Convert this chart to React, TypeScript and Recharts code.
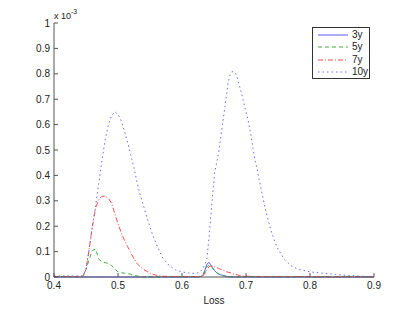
import React from 'react';
import { LineChart, Line, XAxis, YAxis, Legend } from 'recharts';

const lossX = [0.40, 0.42, 0.44, 0.445, 0.45, 0.455, 0.46, 0.465, 0.47, 0.475, 0.48, 0.485, 0.49, 0.495, 0.50, 0.505, 0.51, 0.515, 0.52, 0.525, 0.53, 0.535, 0.54, 0.545, 0.55, 0.555, 0.56, 0.565, 0.57, 0.58, 0.59, 0.60, 0.61, 0.62, 0.625, 0.63, 0.633, 0.636, 0.639, 0.642, 0.645, 0.648, 0.651, 0.654, 0.657, 0.66, 0.663, 0.666, 0.669, 0.672, 0.675, 0.678, 0.681, 0.684, 0.687, 0.69, 0.693, 0.696, 0.699, 0.702, 0.705, 0.708, 0.711, 0.714, 0.717, 0.72, 0.725, 0.73, 0.735, 0.74, 0.745, 0.75, 0.76, 0.77, 0.78, 0.79, 0.80, 0.82, 0.84, 0.86, 0.88, 0.90];

const y3 = [0, 0, 0, 0, 0, 0, 0, 0, 0, 0, 0, 0, 0, 0, 0, 0, 0, 0, 0, 0, 0, 0, 0, 0, 0, 0, 0, 0, 0, 0, 0, 0, 0, 0, 0, 0.002, 0.01, 0.028, 0.05, 0.058, 0.048, 0.035, 0.025, 0.017, 0.012, 0.009, 0.007, 0.005, 0.003, 0.001, 0, 0, 0, 0, 0, 0, 0, 0, 0, 0, 0, 0, 0, 0, 0, 0, 0, 0, 0, 0, 0, 0, 0, 0, 0, 0, 0, 0, 0, 0, 0, 0];

const y5 = [0.001, 0.001, 0.001, 0.001, 0.03, 0.07, 0.105, 0.11, 0.07, 0.06, 0.057, 0.052, 0.045, 0.032, 0.02, 0.017, 0.015, 0.013, 0.011, 0.007, 0.004, 0.002, 0.001, 0.001, 0.001, 0.001, 0.001, 0.001, 0.001, 0.001, 0.001, 0.001, 0.001, 0.001, 0.001, 0.002, 0.005, 0.02, 0.04, 0.047, 0.043, 0.035, 0.026, 0.018, 0.013, 0.009, 0.006, 0.004, 0.002, 0.001, 0.001, 0.001, 0.001, 0.001, 0.001, 0.001, 0.001, 0.001, 0.001, 0.001, 0.001, 0.001, 0.001, 0.001, 0.001, 0.001, 0.001, 0.001, 0.001, 0.001, 0.001, 0.001, 0.001, 0.001, 0.001, 0.001, 0.001, 0.001, 0.001, 0.001, 0.001, 0.001];

const y7 = [0.002, 0.002, 0.002, 0.002, 0.03, 0.11, 0.2, 0.27, 0.305, 0.318, 0.318, 0.31, 0.29, 0.25, 0.21, 0.175, 0.145, 0.12, 0.095, 0.072, 0.052, 0.04, 0.03, 0.022, 0.015, 0.01, 0.007, 0.005, 0.003, 0.002, 0.002, 0.002, 0.002, 0.002, 0.002, 0.003, 0.005, 0.015, 0.03, 0.04, 0.043, 0.043, 0.04, 0.037, 0.034, 0.031, 0.028, 0.025, 0.021, 0.019, 0.017, 0.014, 0.012, 0.01, 0.008, 0.006, 0.005, 0.004, 0.004, 0.003, 0.003, 0.003, 0.002, 0.002, 0.002, 0.002, 0.002, 0.002, 0.002, 0.002, 0.002, 0.002, 0.002, 0.002, 0.002, 0.002, 0.002, 0.001, 0.001, 0.001, 0.001, 0.001];

const y10 = [0.004, 0.004, 0.004, 0.005, 0.03, 0.11, 0.2, 0.28, 0.37, 0.46, 0.54, 0.6, 0.635, 0.651, 0.64, 0.615, 0.575, 0.53, 0.48, 0.43, 0.37, 0.32, 0.28, 0.235, 0.197, 0.16, 0.13, 0.1, 0.075, 0.045, 0.028, 0.02, 0.016, 0.014, 0.016, 0.025, 0.035, 0.05, 0.075, 0.15, 0.24, 0.33, 0.41, 0.448, 0.488, 0.54, 0.595, 0.65, 0.705, 0.763, 0.795, 0.808, 0.808, 0.8, 0.78, 0.75, 0.724, 0.69, 0.66, 0.63, 0.595, 0.555, 0.505, 0.46, 0.43, 0.39, 0.33, 0.27, 0.22, 0.175, 0.14, 0.11, 0.07, 0.045, 0.032, 0.026, 0.02, 0.015, 0.01, 0.006, 0.003, 0.001];

const xTicks = [0.4, 0.5, 0.6, 0.7, 0.8, 0.9];
const yTicks = [0, 0.1, 0.2, 0.3, 0.4, 0.5, 0.6, 0.7, 0.8, 0.9, 1];

const seriesNames = ['3y', '5y', '7y', '10y'];
const seriesColors = ['#5a5aff', '#3fae3f', '#ff4a4a', '#6a6aff'];
const seriesDash = ['', '4 3', '5 2 1 2', '1.5 3'];

const data = lossX.map((x, i) => ({
  x,
  s3: y3[i],
  s5: y5[i],
  s7: y7[i],
  s10: y10[i],
}));
const keys = ['s3', 's5', 's7', 's10'];

const FONT = '"Liberation Sans", Arial, sans-serif';
const AXIS = '#555555';

const fmt = (v: number) => (v === 0 ? '0' : v === 1 ? '1' : String(Math.round(v * 10) / 10));

const renderLegend = () => (
  <div
    style={{
      width: 58,
      height: 52,
      border: '1px solid #333',
      background: '#fff',
      boxSizing: 'border-box',
      fontFamily: FONT,
      fontSize: 10,
    }}
  >
    {seriesNames.map((n, i) => (
      <div key={n} style={{ display: 'flex', alignItems: 'center', height: 12.3, marginTop: i === 0 ? 1 : 0 }}>
        <svg width={36} height={10} style={{ marginLeft: 3 }}>
          <line x1={2} y1={5} x2={32} y2={5} stroke={seriesColors[i]} strokeWidth={1} strokeDasharray={seriesDash[i] || undefined} />
        </svg>
        <span style={{ color: '#222', lineHeight: '10px' }}>{n}</span>
      </div>
    ))}
  </div>
);

export default function App() {
  return (
    <div style={{ position: 'absolute', left: 0, top: 0, width: 413, height: 311, background: '#fff' }}>
      <LineChart width={413} height={311} data={data} margin={{ top: 23, right: 39, bottom: 0, left: 0 }}>
        <XAxis
          xAxisId="b"
          dataKey="x"
          type="number"
          domain={[0.4, 0.9]}
          ticks={xTicks}
          tickFormatter={fmt}
          allowDataOverflow
          height={34}
          stroke={AXIS}
          tickSize={-4}
          tickMargin={9}
          tick={{ fill: '#222', fontSize: 10, fontFamily: FONT }}
          label={{ value: 'Loss', position: 'insideBottom', offset: 7, fill: '#222', fontSize: 10, fontFamily: FONT }}
        />
        <XAxis
          xAxisId="t"
          dataKey="x"
          type="number"
          orientation="top"
          domain={[0.4, 0.9]}
          ticks={xTicks}
          height={0}
          stroke={AXIS}
          tickSize={-4}
          tick={false}
        />
        <YAxis
          yAxisId="l"
          type="number"
          domain={[0, 1]}
          ticks={yTicks}
          tickFormatter={fmt}
          width={54}
          stroke={AXIS}
          tickSize={-4}
          tickMargin={8}
          tick={{ fill: '#222', fontSize: 10, fontFamily: FONT }}
          label={{
            content: () => (
              <text x={54} y={19} fontSize={9} fontFamily={FONT} fill="#222">
                x 10
                <tspan dy={-5} fontSize={7}>-3</tspan>
              </text>
            ),
          }}
        />
        <YAxis
          yAxisId="r"
          type="number"
          orientation="right"
          domain={[0, 1]}
          ticks={yTicks}
          width={0}
          stroke={AXIS}
          tickSize={-4}
          tick={false}
        />
        <Legend
          layout="vertical"
          align="center"
          verticalAlign="middle"
          content={renderLegend}
          wrapperStyle={{ position: 'absolute', left: 312, top: 27, width: 58, height: 52 }}
        />
        {keys.map((k, i) => (
          <Line
            key={k}
            xAxisId="b"
            yAxisId="l"
            dataKey={k}
            name={seriesNames[i]}
            type="linear"
            stroke={seriesColors[i]}
            strokeWidth={1}
            strokeDasharray={seriesDash[i] || undefined}
            dot={false}
            activeDot={false}
            isAnimationActive={false}
          />
        ))}
      </LineChart>
    </div>
  );
}
